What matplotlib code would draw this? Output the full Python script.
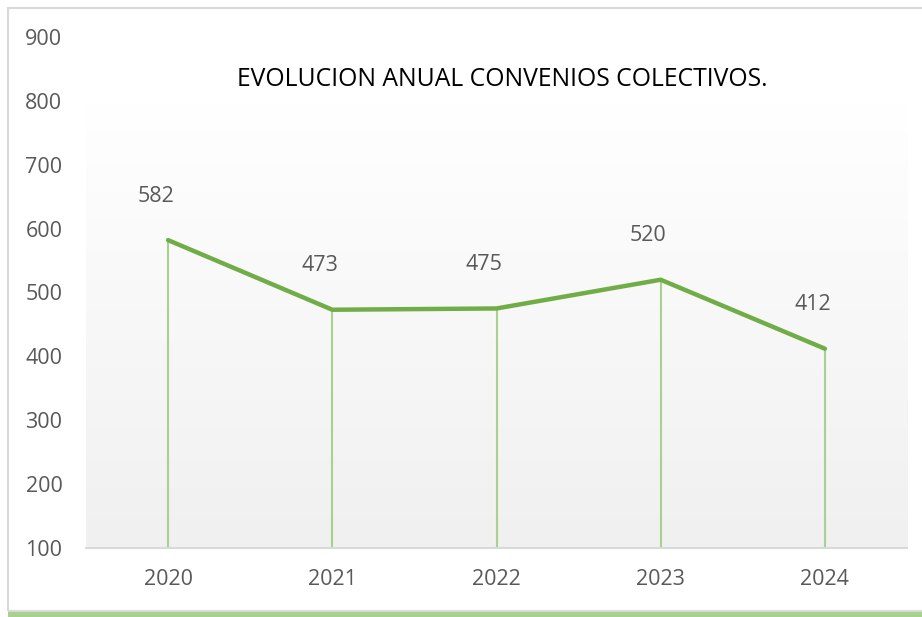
import numpy as np
import matplotlib.pyplot as plt
from matplotlib.patches import Rectangle

# Data
years = ['2020', '2021', '2022', '2023', '2024']
convenios = [582, 473, 475, 520, 412]
y_ticks = [100, 200, 300, 400, 500, 600, 700, 800, 900]

LINE_GREEN = '#70AD47'
DROP_GREEN = '#A9D18E'
TEXT_GRAY = '#595959'

plt.rcParams['font.family'] = ['Open Sans', 'DejaVu Sans']

W, H = 922, 617
fig = plt.figure(figsize=(W / 100, H / 100), dpi=100)

# outer frame + green bottom bar (figure coords in pixels)
fig.patches.append(Rectangle((8 / W, 6 / H), 1.2, 1 - 14 / H, transform=fig.transFigure,
                             fill=False, edgecolor='#D9D9D9', linewidth=1.5))
fig.patches.append(Rectangle((8 / W, 0), 1.0, 5 / H, transform=fig.transFigure,
                             facecolor='#A9D18E', edgecolor='none'))

# axes: x from 86 to 907 px, y 100 at 548 px, 900 at 37 px
ax = fig.add_axes([86 / W, (H - 548) / H, (907 - 86) / W, (548 - 37) / H])
x = np.arange(len(years))
ax.set_xlim(-0.5, len(years) - 0.5)

# gradient plot-area fill (white top -> light gray bottom)
grad = np.linspace(0, 1, 256).reshape(-1, 1)
top = np.array([1.0, 1.0, 1.0])
bot = np.array([0xF0, 0xF0, 0xF0]) / 255
img = top + (bot - top) * grad[..., None]
ax.imshow(img, extent=(-0.5, len(years) - 0.5, 100, 798), aspect='auto', zorder=0,
          origin='upper')
ax.set_ylim(100, 900)

ax.vlines(x, 100, convenios, color=DROP_GREEN, linewidth=1.5, zorder=2)
ax.plot(x, convenios, color=LINE_GREEN, linewidth=3.2, solid_capstyle='round', zorder=3)

for xi, v in zip(x, convenios):
    ax.annotate(str(v), (xi, v), xytext=(-9, 24), textcoords='offset points',
                ha='center', va='bottom', fontsize=15.5, color=TEXT_GRAY)

ax.set_xticks(x)
ax.set_xticklabels(years)
ax.set_yticks(y_ticks)
ax.tick_params(axis='both', length=0, labelsize=15.5, labelcolor=TEXT_GRAY)
ax.tick_params(axis='x', pad=15)
ax.tick_params(axis='y', pad=17)
for s in ['top', 'right', 'left']:
    ax.spines[s].set_visible(False)
ax.spines['bottom'].set_color('#D9D9D9')
ax.spines['bottom'].set_linewidth(1.5)

fig.text(502 / W, 1 - 80 / H, 'EVOLUCION ANUAL CONVENIOS COLECTIVOS.',
         ha='center', va='center', fontsize=17.8, color='black')

fig.savefig('out.png', dpi=100)
